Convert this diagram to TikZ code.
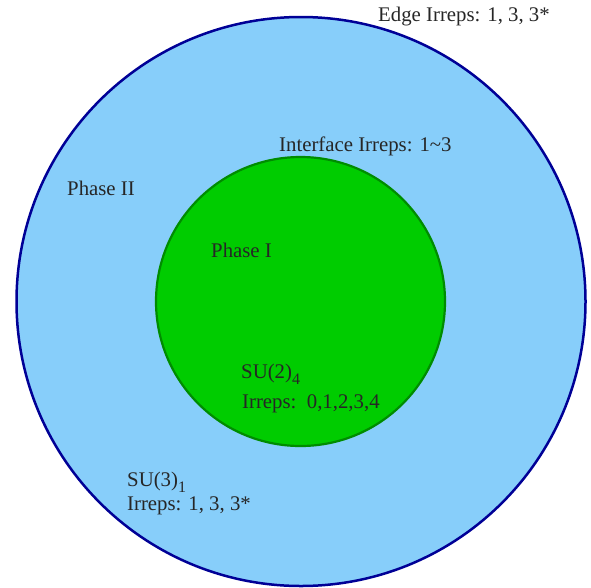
\documentclass[tikz,border=0pt]{standalone}
\usepackage{fontspec}
\setmainfont{Liberation Serif}
\usepackage{tikz}
\usetikzlibrary{positioning}
\definecolor{cOuter}{RGB}{135,206,250}
\definecolor{cOuterLine}{RGB}{0,0,150}
\definecolor{cInner}{RGB}{0,204,0}
\definecolor{cInnerLine}{RGB}{0,140,0}
\newcommand{\lowsub}[1]{\raisebox{-6.5pt}[0pt][0pt]{\fontsize{16pt}{16pt}\selectfont #1}}

\begin{document}
\begin{tikzpicture}[x=1pt, y=-1pt,
   phase/.style={circle, inner sep=0pt},
   lbl/.style={anchor=base west, inner sep=0pt, text=black!85,
      font=\fontsize{20.8pt}{25pt}\selectfont}]
   \useasboundingbox (0,0) rectangle (591,587);
   % Phase regions
   \node[phase, draw=cOuterLine, line width=2.5pt, fill=cOuter, minimum size=569pt] (outer) at (301,301.5) {};
   \node[phase, draw=cInnerLine, line width=2.2pt, fill=cInner, minimum size=289pt] (inner) at (300.5,301.5) {};

   % Labels
   \node[lbl] (edge) at (378,21) {Edge Irreps: 1, 3, 3*};
   \node[lbl] (iface) at (279,151) {Interface Irreps: 1\textasciitilde 3};
   \node[lbl] (phaseII) at (67,195) {Phase II};
   \node[lbl] (phaseI) at (211,257) {Phase I};
   \node[lbl] (su2) at (241,378) {SU(2)\lowsub{4}};
   \node[lbl] (irr2) at (242,408) {Irreps:\ \ 0,1,2,3,4};
   \node[lbl] (su3) at (127,486) {SU(3)\lowsub{1}};
   \node[lbl] (irr3) at (127,510) {Irreps: 1, 3, 3*};
\end{tikzpicture}
\end{document}
